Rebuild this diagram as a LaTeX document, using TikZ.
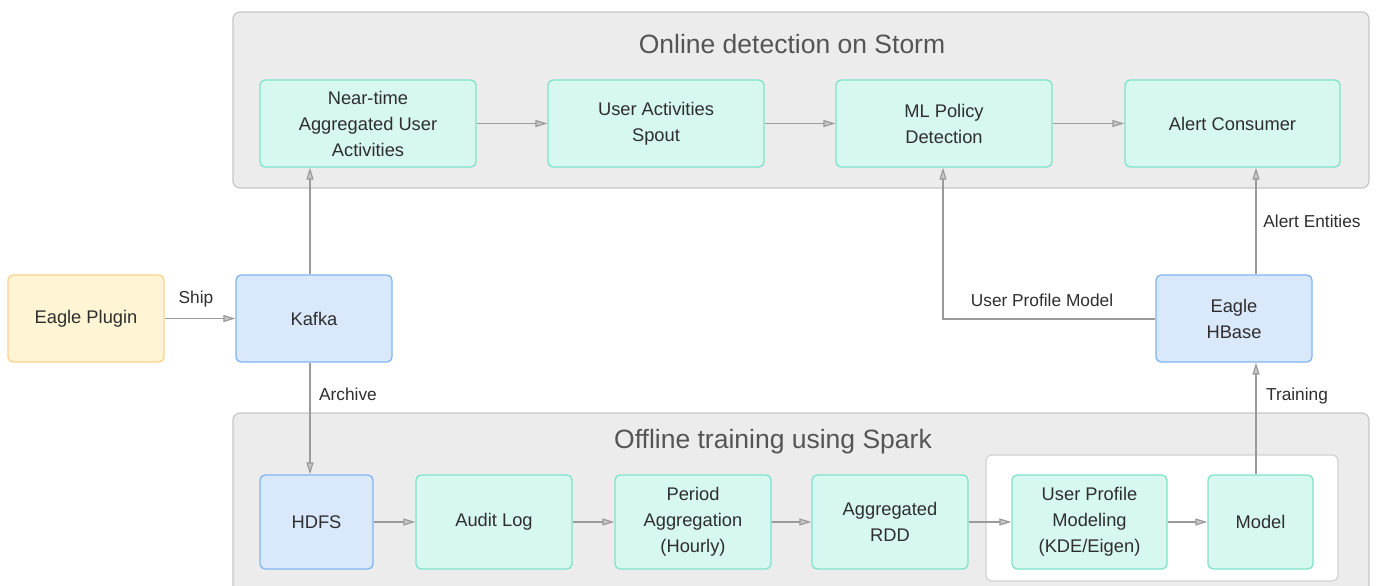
\documentclass[tikz,border=0pt]{standalone}
\usepackage{fontspec}
\setmainfont{Liberation Sans}
\usetikzlibrary{arrows.meta}
\definecolor{tealfill}{HTML}{D7F7F1}
\definecolor{tealline}{HTML}{7FE3CA}
\definecolor{bluefill}{HTML}{DAE8FC}
\definecolor{blueline}{HTML}{80B5F2}
\definecolor{yelfill}{HTML}{FFF5D4}
\definecolor{yelline}{HTML}{F8D38C}
\definecolor{contfill}{HTML}{ECECEC}
\definecolor{contline}{HTML}{C6C6C6}
\definecolor{whiteline}{HTML}{D2D2D2}
\definecolor{linecol}{HTML}{9A9A9A}
\definecolor{tipfill}{HTML}{C8C8C8}
\definecolor{textcol}{HTML}{2E2E2E}
\definecolor{titlecol}{HTML}{555555}
\tikzset{
  box/.style={draw=tealline, fill=tealfill, rounded corners=5pt, line width=1.3pt,
    align=center, inner sep=0pt, text=textcol, font=\fontsize{18.3}{26}\selectfont},
  bluebox/.style={box, draw=blueline, fill=bluefill},
  yelbox/.style={box, draw=yelline, fill=yelfill},
  container/.style={draw=contline, fill=contfill, rounded corners=7pt, line width=1.2pt},
  inner/.style={draw=whiteline, fill=white, rounded corners=6pt, line width=1.2pt},
  arr/.style={draw=linecol, line width=1.2pt,
    -{Triangle[length=12pt,width=7pt,fill=tipfill]}},
  lbl/.style={text=textcol, font=\fontsize{17.3}{20}\selectfont, inner sep=0pt},
  ttl/.style={text=titlecol, font=\fontsize{26.5}{30}\selectfont, inner sep=0pt}
}
\begin{document}
\begin{tikzpicture}[x=1pt,y=-1pt]
\path[use as bounding box] (0,0) rectangle (1377,586);
\clip (0,0) rectangle (1377,586);
% containers
\draw[container] (233,12) rectangle (1369,188);
\draw[container] (233,413) rectangle (1369,610);
\draw[inner] (986,455) rectangle (1338,581);
\node[ttl] (t1) at (792,44) {Online detection on Storm};
\node[ttl] (t2) at (773,442) {Offline training using Spark};
% top row
\node[box, minimum width=216pt, minimum height=87pt] (near) at (368,123.5) {Near-time\\Aggregated User\\Activities};
\node[box, minimum width=216pt, minimum height=87pt] (spout) at (656,123.5) {User Activities\\Spout};
\node[box, minimum width=216pt, minimum height=87pt] (ml) at (944,123.5) {ML Policy\\Detection};
\node[box, minimum width=215pt, minimum height=87pt] (alert) at (1232.5,123.5) {Alert Consumer};
% middle row
\node[yelbox, minimum width=156pt, minimum height=87pt] (plugin) at (86,318.5) {Eagle Plugin};
\node[bluebox, minimum width=156pt, minimum height=87pt] (kafka) at (314,318.5) {Kafka};
\node[bluebox, minimum width=156pt, minimum height=87pt] (hbase) at (1234,318.5) {Eagle\\HBase};
% bottom row
\node[bluebox, minimum width=113pt, minimum height=94pt] (hdfs) at (316.5,522) {HDFS};
\node[box, minimum width=156pt, minimum height=94pt] (audit) at (494,522) {Audit Log};
\node[box, minimum width=156pt, minimum height=94pt] (period) at (693,522) {Period\\Aggregation\\(Hourly)};
\node[box, minimum width=156pt, minimum height=94pt] (rdd) at (890,522) {Aggregated\\RDD};
\node[box, minimum width=155pt, minimum height=94pt] (upm) at (1089.5,522) {User Profile\\Modeling\\(KDE/Eigen)};
\node[box, minimum width=105pt, minimum height=94pt] (model) at (1260.5,522) {Model};
% helper coordinates
\coordinate (xk) at (310,0);
\coordinate (xm) at (943,0);
\coordinate (xh) at (1256,0);
\coordinate (bend) at (943,319);
% connectors
\draw[arr] (plugin) -- (kafka);
\draw[arr] (kafka.north -| xk) -- (near.south -| xk);
\draw[arr] (kafka.south -| xk) -- (hdfs.north -| xk);
\draw[arr] (near) -- (spout);
\draw[arr] (spout) -- (ml);
\draw[arr] (ml) -- (alert);
\draw[arr] (hbase.west |- bend) -- (bend) -- (ml.south -| xm);
\draw[arr] (hbase.north -| xh) -- (alert.south -| xh);
\draw[arr] (model.north -| xh) -- (hbase.south -| xh);
\draw[arr] (hdfs) -- (audit);
\draw[arr] (audit) -- (period);
\draw[arr] (period) -- (rdd);
\draw[arr] (rdd) -- (upm);
\draw[arr] (upm) -- (model);
% labels
\node[lbl] (lship) at (196,299) {Ship};
\node[lbl] (larch) at (348,394) {Archive};
\node[lbl] (lupm) at (1042,300) {User Profile Model};
\node[lbl] (lae) at (1312,221) {Alert Entities};
\node[lbl] (ltr) at (1297,396) {Training};
\end{tikzpicture}
\end{document}
